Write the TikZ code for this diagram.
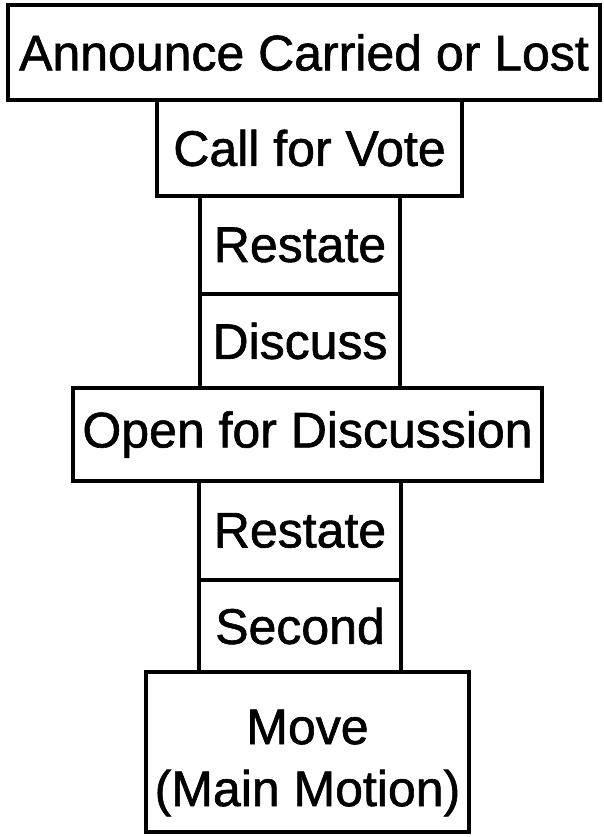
\documentclass[tikz,border=0pt]{standalone}
\usepackage{fontspec}
\setmainfont[BoldFont={Liberation Sans},BoldFeatures={FakeBold=1.2}]{Liberation Sans}
\begin{document}
\begin{tikzpicture}[x=1pt,y=-1pt,
  boxfont/.style={font=\fontsize{50}{62}\selectfont\bfseries,text=black},
  stepbox/.style={draw=black,line width=4pt,fill=white,inner sep=0pt,
    align=center,boxfont}]
\useasboundingbox (0,0) rectangle (603,837);
\fill[white] (0,0) rectangle (603,837);
\node[stepbox,minimum width=592pt,minimum height=95pt] (announce) at (304,52.5) {Announce Carried or Lost};
\node[stepbox,minimum width=305pt,minimum height=96pt] (vote) at (309.5,148) {Call for Vote};
\node[stepbox,minimum width=200pt,minimum height=98pt] (restateA) at (300,245) {Restate};
\node[stepbox,minimum width=200pt,minimum height=94pt] (discuss) at (300,341) {Discuss};
\node[stepbox,minimum width=469pt,minimum height=93pt] (open) at (307.5,434.5) {Open for Discussion};
\node[stepbox,minimum width=202pt,minimum height=99pt] (restateB) at (300,530.5) {Restate};
\node[stepbox,minimum width=202pt,minimum height=92pt] (second) at (300,626) {Second};
\node[stepbox,minimum width=323pt,minimum height=160pt] (move) at (307.5,752) {};
\node[boxfont,align=center,inner sep=0pt] (movetext) at (307.5,763) {Move\\(Main Motion)};
\end{tikzpicture}
\end{document}
